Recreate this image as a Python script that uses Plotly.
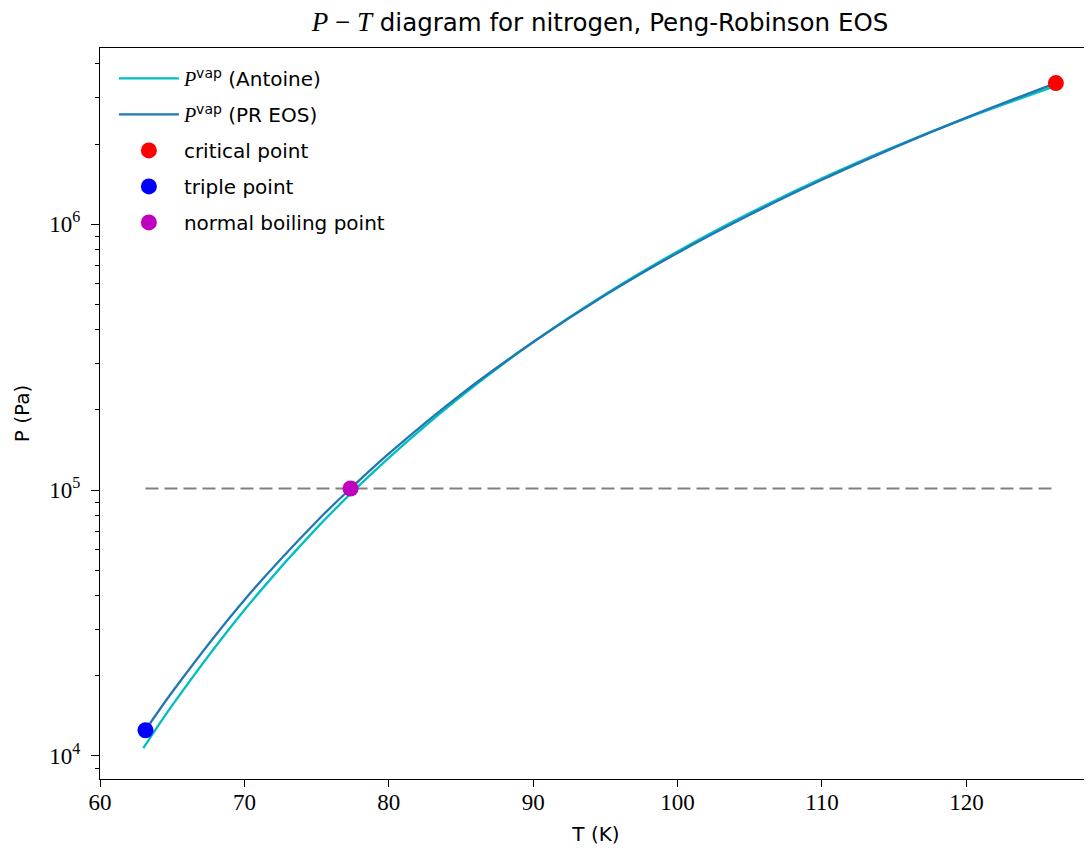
import plotly.graph_objects as go

# ---- data ----
T_antoine = [63.0, 65.0, 70.0, 75.0, 80.0, 85.0, 90.0, 95.0, 100.0, 105.0, 110.0, 115.0, 120.0, 126.2]
P_antoine = [1.07e4, 1.55e4, 3.54e4, 7.19e4, 1.32e5, 2.25e5, 3.60e5, 5.45e5, 7.89e5, 1.10e6, 1.486e6, 1.952e6, 2.503e6, 3.31e6]

T_pr = [63.15, 65.0, 70.0, 75.0, 77.35, 80.0, 85.0, 90.0, 95.0, 100.0, 105.0, 110.0, 115.0, 120.0, 126.2]
P_pr = [1.25e4, 1.74e4, 3.86e4, 7.62e4, 1.013e5, 1.37e5, 2.29e5, 3.60e5, 5.41e5, 7.79e5, 1.084e6, 1.467e6, 1.939e6, 2.513e6, 3.39e6]

T_crit, P_crit = [126.2], [3.39e6]
T_triple, P_triple = [63.15], [1.25e4]
T_nbp, P_nbp = [77.35], [101325]

T_atm = [63.15, 126.2]
P_atm = [101325, 101325]

y_tickvals = [1e4, 1e5, 1e6]
y_ticktext = ["10<sup>4</sup>", "10<sup>5</sup>", "10<sup>6</sup>"]
x_tickvals = [60, 70, 80, 90, 100, 110, 120]

SERIF = "Liberation Serif, DejaVu Serif, serif"
SANS = "DejaVu Sans, Liberation Sans, sans-serif"
PV = '<span style="font-family:Liberation Serif"><i>P</i></span><sup>vap</sup>'

# page body has an 8px margin: figure coords = screen coords - 8
W, H = 1084, 838

fig = go.Figure()
fig.add_trace(go.Scatter(x=T_antoine, y=P_antoine, mode="lines", line=dict(color="#00BFBF", width=2.3, shape="spline"),
                         name=PV + " (Antoine)", legendgroup="a"))
fig.add_trace(go.Scatter(x=T_pr, y=P_pr, mode="lines", line=dict(color="#1f77b4", width=2.3, shape="spline"),
                         name=PV + " (PR EOS)", legendgroup="b"))
fig.add_trace(go.Scatter(x=T_atm, y=P_atm, mode="lines", line=dict(color="#808080", width=2.2, dash="13px,6px"),
                         showlegend=False, hoverinfo="skip"))
fig.add_trace(go.Scatter(x=T_crit, y=P_crit, mode="markers", marker=dict(color="#FF0000", size=16),
                         name="critical point", legendgroup="c"))
fig.add_trace(go.Scatter(x=T_triple, y=P_triple, mode="markers", marker=dict(color="#0000FF", size=16),
                         name="triple point", legendgroup="d"))
fig.add_trace(go.Scatter(x=T_nbp, y=P_nbp, mode="markers", marker=dict(color="#BF00BF", size=16),
                         name="normal boiling point", legendgroup="e"))

fig.update_layout(
    width=W, height=H,
    margin=dict(l=92, r=0, t=40, b=67, autoexpand=False),
    paper_bgcolor="white", plot_bgcolor="white",
    font=dict(family=SANS, size=18, color="black"),
    title=dict(text='<span style="font-family:Liberation Serif;font-size:27px"><i>P</i> − <i>T</i></span> diagram for nitrogen, Peng-Robinson EOS',
               x=592 / W, xanchor="center", y=1 - 14 / H, yanchor="middle",
               font=dict(size=24.5, family=SANS)),
    legend=dict(x=0.014, y=0.985, xanchor="left", yanchor="top", bgcolor="rgba(0,0,0,0)",
                font=dict(size=20, family=SANS), tracegroupgap=7, itemwidth=60),
    showlegend=True,
)
fig.update_xaxes(
    range=[60, 128.7], tickvals=x_tickvals, ticks="outside", ticklen=7, tickwidth=1.2, tickcolor="black",
    showline=True, linecolor="black", linewidth=1.2, mirror=True, showgrid=False, zeroline=False,
    tickfont=dict(family=SERIF, size=23), automargin=False, ticklabelstandoff=-5,
    title=dict(text="T (K)", font=dict(size=20, family=SANS), standoff=16),
)
fig.update_yaxes(
    type="log", range=[3.9135, 6.662], tickvals=y_tickvals, ticktext=y_ticktext,
    ticks="outside", ticklen=8, tickwidth=1.2, tickcolor="black",
    minor=dict(ticks="outside", ticklen=4, tickwidth=1, tickcolor="black", dtick="D1", showgrid=False),
    showline=True, linecolor="black", linewidth=1.2, mirror=False, showgrid=False, zeroline=False,
    tickfont=dict(family=SERIF, size=23), automargin=False, ticklabelstandoff=6,
    title=dict(text="P (Pa)", font=dict(size=20, family=SANS), standoff=14),
)

fig.write_html("out.html")
